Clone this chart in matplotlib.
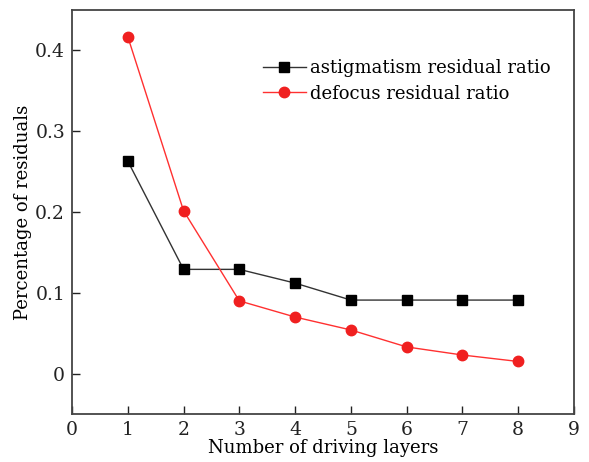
import matplotlib
matplotlib.use("Agg")
from matplotlib import pyplot as plt

# data
layers = [1, 2, 3, 4, 5, 6, 7, 8]
astigmatism = [0.263, 0.129, 0.129, 0.112, 0.091, 0.091, 0.091, 0.091]
defocus = [0.417, 0.2015, 0.090, 0.070, 0.054, 0.033, 0.023, 0.015]
x_ticks = [0, 1, 2, 3, 4, 5, 6, 7, 8, 9]
y_ticks = [0, 0.1, 0.2, 0.3, 0.4]
y_tick_labels = ["0", "0.1", "0.2", "0.3", "0.4"]

plt.rcParams["font.family"] = "DejaVu Serif"

fig = plt.figure(figsize=(5.89, 4.62), dpi=100)
ax = fig.add_axes([72 / 589, 48 / 462, 502 / 589, 404 / 462])

ax.plot(layers, astigmatism, color="#333333", lw=1, marker="s", ms=6.8,
        mfc="black", mec="black", label="astigmatism residual ratio")
ax.plot(layers, defocus, color="#ff3030", lw=1, marker="o", ms=7.5,
        mfc="#f02020", mec="#f02020", label="defocus residual ratio")

ax.set_xlim(0, 9)
ax.set_ylim(-0.05, 0.45)
ax.set_xticks(x_ticks)
ax.set_yticks(y_ticks)
ax.set_yticklabels(y_tick_labels)
ax.tick_params(direction="in", length=6, width=1, labelsize=13.5, colors="#222222", pad=5)
for s in ax.spines.values():
    s.set_color("#444444")
    s.set_linewidth(1.3)

ax.set_xlabel("Number of driving layers", fontsize=13, labelpad=0)
ax.set_ylabel("Percentage of residuals", fontsize=13, labelpad=2)

ax.legend(loc="upper right", bbox_to_anchor=(0.985, 0.918), frameon=False,
          fontsize=13, handlelength=2.4, handletextpad=0.2, labelspacing=0.4)

fig.savefig("out.png", dpi=100)
